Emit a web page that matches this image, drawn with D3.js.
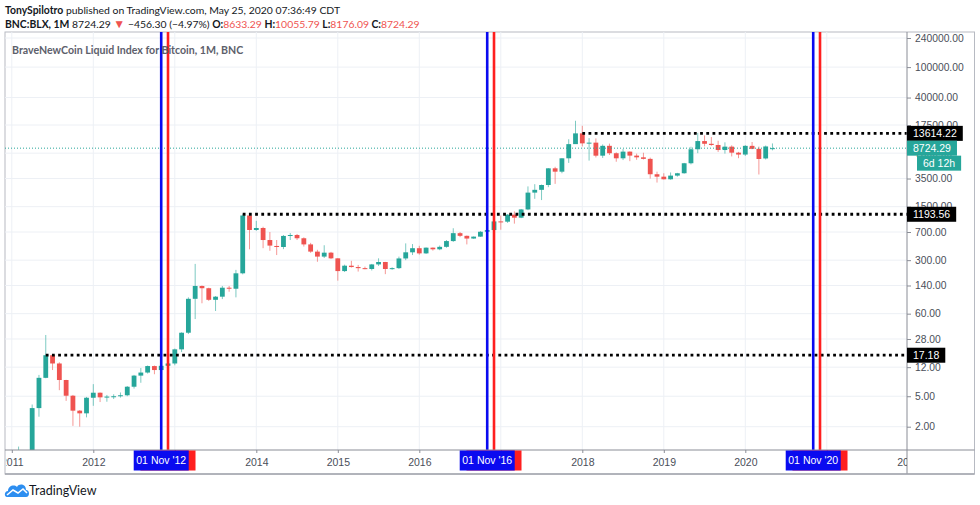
<!DOCTYPE html>
<html>
<head>
<meta charset="utf-8">
<script src="https://cdn.jsdelivr.net/npm/d3@7"></script>
<style>
  body { margin: 0; background: #fff; }
  svg text { font-family: "Liberation Sans", Arial, sans-serif; }
</style>
</head>
<body>
<div id="chart"></div>
<script>
// monthly candles, first one is Feb 2011
const startMonth = "2011-02";
const opens = [0.52, 0.86, 0.78, 3.5, 8.7, 17.18, 13.4, 8.15, 5.08, 3.24, 2.99,
  4.78, 5.56, 4.84, 4.95, 5.0, 5.15, 6.66, 9.3, 10.2, 12.4, 11.0, 12.5,
  13.4, 20.5, 33.8, 93.8, 138, 129, 91, 100, 131, 127, 202, 1150,
  744, 790, 550, 460, 446, 622, 640, 580, 482, 388, 334, 376,
  317, 216, 254, 244, 236, 230, 264, 284, 230, 236, 316, 380,
  430, 368, 437, 416, 448, 533, 676, 624, 575, 609, 705, 742,
  963, 955, 1180, 1077, 1380, 2290, 2490, 2880, 4756, 4300, 6430, 9850,
  13614.22, 10080, 10300, 6960, 9360, 7490, 6430, 7860, 6970, 6620, 6320, 3980,
  3700, 3420, 3820, 4100, 5540, 8440, 10800, 9950, 9600, 8250, 9130, 7620,
  7200, 9350, 8550, 6400, 8633.29];
const highs = [1.1, 0.95, 3.9, 9.5, 31.6, 17.3, 13.9, 8.2, 5.2, 3.3, 4.9,
  7.2, 5.6, 5.2, 5.3, 5.6, 6.8, 9.5, 11.7, 12.6, 12.6, 12.8, 13.8,
  21, 34.2, 98, 268, 140, 131, 102, 138, 138, 224, 1193.56, 1180,
  980, 820, 700, 550, 640, 680, 660, 596, 505, 410, 470, 385,
  318, 262, 294, 260, 247, 268, 317, 285, 242, 334, 497, 487,
  462, 440, 440, 466, 550, 784, 700, 630, 612, 720, 752, 975,
  1150, 1200, 1300, 1400, 2760, 2950, 2920, 4790, 4980, 6440, 11400, 19900,
  17100, 11800, 11700, 9750, 10000, 7700, 8500, 7900, 7400, 7600, 6560, 4300,
  4100, 4200, 4150, 5600, 9100, 13800, 12800, 12200, 10900, 10400, 9500, 7800,
  9550, 10500, 9150, 9450, 10055.79];
const lows = [0.52, 0.75, 0.56, 2.7, 8.6, 11, 6, 4.35, 2.05, 2.0, 2.65,
  3.75, 4.2, 4.24, 4.6, 4.8, 5.0, 6.3, 7.5, 9.9, 9.7, 10.5, 12.3,
  12.7, 18.9, 32.5, 51, 82, 88, 65, 93, 116, 98, 196, 416,
  725, 430, 398, 350, 418, 550, 550, 452, 374, 286, 320, 310,
  162, 210, 240, 213, 228, 220, 252, 197, 225, 230, 300, 350,
  354, 362, 400, 405, 436, 520, 600, 482, 570, 604, 680, 740,
  750, 920, 900, 1060, 1350, 1900, 1830, 2700, 2980, 4100, 5600, 10900,
  9200, 6000, 6600, 6500, 7100, 5800, 6100, 5900, 6150, 6200, 3490, 3100,
  3400, 3380, 3700, 4050, 5350, 7500, 9200, 9350, 7800, 7400, 6800, 6450,
  6900, 8450, 3950, 6200, 8176.09];
const closes = [0.86, 0.78, 3.5, 8.7, 17.18, 13.4, 8.15, 5.08, 3.24, 2.99, 4.78,
  5.56, 4.84, 4.95, 5.0, 5.15, 6.66, 9.3, 10.2, 12.4, 11.0, 12.5, 13.4,
  20.5, 33.8, 93.8, 138, 129, 91, 100, 131, 127, 202, 1150, 744,
  790, 550, 465, 446, 622, 640, 580, 482, 388, 334, 376, 317,
  216, 254, 244, 236, 230, 264, 284, 230, 236, 316, 380, 430,
  368, 437, 416, 448, 533, 676, 624, 575, 609, 705, 742, 963,
  955, 1180, 1077, 1380, 2290, 2490, 2880, 4756, 4300, 6430, 9850, 13614.22,
  10080, 10300, 6960, 9360, 7490, 6430, 7860, 6970, 6620, 6320, 3980, 3700,
  3420, 3820, 4100, 5540, 8440, 10800, 9950, 9600, 8250, 9130, 7620, 7200,
  9350, 8550, 6300, 9180.59, 8724.29];

const yTicks = [2, 5, 12, 28, 60, 140, 300, 700, 1500, 3500, 7500, 17500, 40000, 100000, 240000];
const years = [2011, 2012, 2013, 2014, 2015, 2016, 2017, 2018, 2019, 2020, 2021, 2022];
// years whose label sits under a marker date box
const hiddenYears = [2013, 2017, 2021];

// horizontal levels drawn by the author
const levelValues = [17.18, 1193.56, 13614.22];
const levelStarts = ["2011-06", "2013-11", "2018-01"];

// vertical marker lines (red = Dec, blue = Nov on top)
const markerMonths = ["2012-12", "2012-11", "2016-12", "2016-11", "2020-12", "2020-11"];
const markerLabels = ["", "01 Nov '12", "", "01 Nov '16", "", "01 Nov '20"];
const markerColors = ["#ff1f1f", "#0a0af0", "#ff1f1f", "#0a0af0", "#ff1f1f", "#0a0af0"];

const lastPrice = 8724.29;
const countdown = "6d 12h";

const W = 980, H = 505;
const plot = {left: 5, top: 32, right: 907, bottom: 450};
const upColor = "#26a69a", downColor = "#ef5350";

function monthIndex(s) {
  let p = s.split("-");
  return (+p[0] - 2011) * 12 + (+p[1] - 1);
}

let x = d3.scaleLinear().domain([0, 108]).range([11.8, 745.3]);
let y = d3.scaleLog().domain([2, 240000]).range([426.7, 38]);

let svg = d3.select("#chart").append("svg")
  .attr("width", W).attr("height", H)
  .style("display", "block");

svg.append("rect").attr("width", W).attr("height", H).attr("fill", "#fff");

// header
let head1 = svg.append("text").attr("x", 5).attr("y", 14)
  .style("font-family", "Lato, sans-serif").style("font-size", "10.4px").attr("fill", "#131722");
head1.append("tspan").style("font-weight", "bold").text("TonySpilotro");
head1.append("tspan").text(" published on TradingView.com, May 25, 2020 07:36:49 CDT");

let head2 = svg.append("text").attr("x", 5).attr("y", 28)
  .style("font-family", "Lato, sans-serif").style("font-size", "10.4px").attr("fill", "#131722");
head2.append("tspan").style("font-weight", "bold").text("BNC:BLX, 1M");
head2.append("tspan").text(" 8724.29 ");
head2.append("tspan").attr("fill", downColor).style("font-size", "12px").text("▼");
head2.append("tspan").text(" −456.30 (−4.97%)");
[["O:", "8633.29"], ["H:", "10055.79"], ["L:", "8176.09"], ["C:", "8724.29"]].forEach(function(d) {
  head2.append("tspan").style("font-weight", "bold").text(" " + d[0]);
  head2.append("tspan").attr("fill", downColor).text(d[1]);
});

// frame
svg.append("rect")
  .attr("x", plot.left).attr("y", plot.top)
  .attr("width", 974.5 - plot.left).attr("height", 474 - plot.top)
  .attr("fill", "none").attr("stroke", "#b7bac2");

let defs = svg.append("defs");
defs.append("clipPath").attr("id", "plotClip").append("rect")
  .attr("x", plot.left).attr("y", plot.top)
  .attr("width", plot.right - plot.left).attr("height", plot.bottom - plot.top);
defs.append("clipPath").attr("id", "timeClip").append("rect")
  .attr("x", plot.left + 1).attr("y", plot.bottom)
  .attr("width", plot.right - plot.left - 1).attr("height", 24);

let g = svg.append("g").attr("clip-path", "url(#plotClip)");

// grid
g.append("g").selectAll("line").data(yTicks).enter().append("line")
  .attr("x1", plot.left).attr("x2", plot.right)
  .attr("y1", d => y(d)).attr("y2", d => y(d))
  .attr("stroke", "#edf0f5");
g.append("g").selectAll("line").data(years).enter().append("line")
  .attr("x1", d => x((d - 2011) * 12)).attr("x2", d => x((d - 2011) * 12))
  .attr("y1", plot.top).attr("y2", plot.bottom)
  .attr("stroke", "#edf0f5");

// title
svg.append("text").attr("x", 12).attr("y", 54)
  .style("font-family", "Lato, sans-serif").style("font-size", "10.6px").style("font-weight", "bold")
  .attr("fill", "#5d606b")
  .text("BraveNewCoin Liquid Index for Bitcoin, 1M, BNC");

// candles
let first = monthIndex(startMonth);
let candles = opens.map((o, i) => ({k: first + i, o: o, h: highs[i], l: lows[i], c: closes[i]}));

let cg = g.append("g");
cg.selectAll("line").data(candles).enter().append("line")
  .attr("x1", d => x(d.k)).attr("x2", d => x(d.k))
  .attr("y1", d => y(d.h)).attr("y2", d => y(d.l))
  .attr("stroke", d => d.c >= d.o ? upColor : downColor)
  .attr("stroke-opacity", 0.6)
  .attr("stroke-width", 1);
cg.selectAll("rect").data(candles).enter().append("rect")
  .attr("x", d => x(d.k) - 2.4).attr("width", 4.8)
  .attr("y", d => y(Math.max(d.o, d.c)))
  .attr("height", d => Math.max(1, Math.abs(y(d.o) - y(d.c))))
  .attr("fill", d => d.c >= d.o ? upColor : downColor);

// last price line
g.append("line")
  .attr("x1", plot.left).attr("x2", plot.right)
  .attr("y1", y(lastPrice)).attr("y2", y(lastPrice))
  .attr("stroke", upColor).attr("stroke-width", 1)
  .attr("stroke-dasharray", "1,2");

// dotted levels
g.append("g").selectAll("line").data(levelValues).enter().append("line")
  .attr("x1", (d, i) => x(monthIndex(levelStarts[i])))
  .attr("x2", plot.right)
  .attr("y1", d => y(d)).attr("y2", d => y(d))
  .attr("stroke", "#000").attr("stroke-width", 2.8)
  .attr("stroke-dasharray", "2.8,3.4");

// vertical markers
g.append("g").selectAll("line").data(markerMonths).enter().append("line")
  .attr("x1", d => x(monthIndex(d))).attr("x2", d => x(monthIndex(d)))
  .attr("y1", plot.top).attr("y2", plot.bottom)
  .attr("stroke", (d, i) => markerColors[i]).attr("stroke-width", 2.6);

// axis separators
svg.append("line").attr("x1", plot.right).attr("x2", plot.right)
  .attr("y1", plot.top).attr("y2", 474).attr("stroke", "#8a8d96");
svg.append("line").attr("x1", plot.left).attr("x2", 974.5)
  .attr("y1", plot.bottom).attr("y2", plot.bottom).attr("stroke", "#8a8d96");
svg.append("line").attr("x1", plot.left).attr("x2", 974.5)
  .attr("y1", 474).attr("y2", 474).attr("stroke", "#a3a6ae").attr("stroke-width", 1.5);

// price axis
let yAxis = svg.append("g")
  .attr("transform", "translate(" + plot.right + ",0)")
  .call(d3.axisRight(y).tickValues(yTicks).tickFormat(d => d.toFixed(2)).tickSize(4).tickPadding(4));
yAxis.select(".domain").remove();
yAxis.selectAll("line").attr("stroke", "#8a8d96");
yAxis.selectAll("text").attr("fill", "#4a4e59").style("font-size", "10.3px");

// time axis
let xAxis = svg.append("g")
  .attr("clip-path", "url(#timeClip)")
  .append("g")
  .attr("transform", "translate(0," + plot.bottom + ")")
  .call(d3.axisBottom(x).tickValues(years.map(d => (d - 2011) * 12))
    .tickFormat((d, i) => hiddenYears.includes(years[i]) ? "" : years[i])
    .tickSize(3).tickPadding(6));
xAxis.select(".domain").remove();
xAxis.selectAll("line").attr("stroke", "#8a8d96");
xAxis.selectAll("text").attr("fill", "#4a4e59").style("font-size", "10.5px");

// marker date labels
let ml = svg.append("g").selectAll("g").data(markerMonths).enter().append("g")
  .attr("transform", d => "translate(" + x(monthIndex(d)) + "," + plot.bottom + ")");
ml.append("rect").attr("x", -27.5).attr("y", 0.5).attr("width", 55).attr("height", 20)
  .attr("fill", (d, i) => markerColors[i]);
ml.filter((d, i) => markerLabels[i] !== "").append("text")
  .attr("y", 14).attr("text-anchor", "middle")
  .attr("fill", "#fff").style("font-size", "10.5px")
  .text(d => markerLabels[markerMonths.indexOf(d)]);

// price labels on the axis
function priceLabel(text, fill, dx, yc) {
  let lg = svg.append("g");
  let t = lg.append("text").attr("x", plot.right + dx + 6).attr("y", yc + 4)
    .attr("fill", "#fff").style("font-size", "10.5px").text(text);
  let w = t.node().getComputedTextLength() + 12;
  lg.insert("rect", "text").attr("x", plot.right + dx).attr("y", yc - 7.5)
    .attr("width", w).attr("height", 15).attr("fill", fill);
}
levelValues.forEach(v => priceLabel(v.toFixed(2), "#000", 0, y(v)));
priceLabel(lastPrice.toFixed(2), upColor, 0, y(lastPrice));
priceLabel(countdown, upColor, 10, y(lastPrice) + 15);

// footer logo
let logo = svg.append("g").attr("transform", "translate(5,482)");
logo.append("path")
  .attr("d", "M2,15 C-1,15 -1,9 3,9 C3,4 9,2 12,5 C14,1 21,2 21,8 C25,8 25,15 21,15 Z")
  .attr("fill", "#2d8ef0");
logo.append("path")
  .attr("d", "M2,13 L8,8 L13,11 L18,7 L22,11")
  .attr("fill", "none").attr("stroke", "#fff").attr("stroke-width", 1.6);
svg.append("text").attr("x", 29).attr("y", 495)
  .style("font-family", "Lato, sans-serif").style("font-size", "12.5px")
  .attr("fill", "#131722").text("TradingView");
</script>
</body>
</html>
